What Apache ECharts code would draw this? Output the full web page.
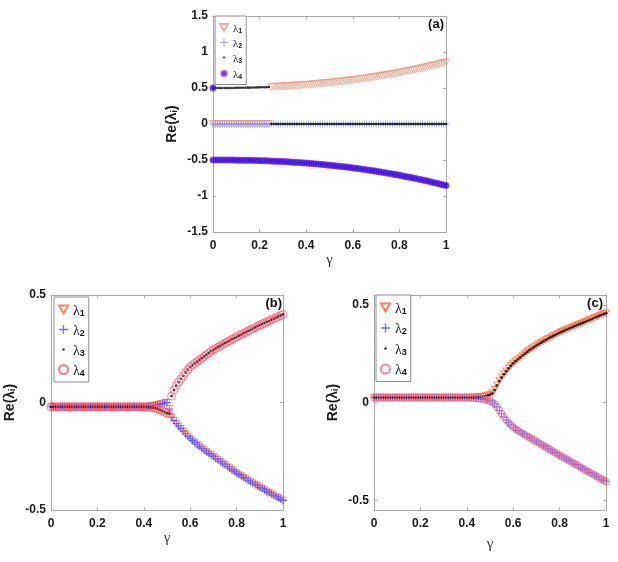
<!DOCTYPE html>
<html><head><meta charset="utf-8">
<script src="https://cdn.jsdelivr.net/npm/echarts@6/dist/echarts.min.js"></script>
<style>html,body{margin:0;padding:0;background:#fff}#c{width:618px;height:562px}</style>
</head><body><div id="c"></div>
<script>
// ---------------- data ----------------
const gamma = [0,0.01,0.02,0.03,0.04,0.05,0.06,0.07,0.08,0.09,0.1,0.11,0.12,0.13,0.14,0.15,0.16,0.17,0.18,0.19,0.2,0.21,0.22,0.23,0.24,0.25,0.26,0.27,0.28,0.29,0.3,0.31,0.32,0.33,0.34,0.35,0.36,0.37,0.38,0.39,0.4,0.41,0.42,0.43,0.44,0.45,0.46,0.47,0.48,0.49,0.5,0.51,0.52,0.53,0.54,0.55,0.56,0.57,0.58,0.59,0.6,0.61,0.62,0.63,0.64,0.65,0.66,0.67,0.68,0.69,0.7,0.71,0.72,0.73,0.74,0.75,0.76,0.77,0.78,0.79,0.8,0.81,0.82,0.83,0.84,0.85,0.86,0.87,0.88,0.89,0.9,0.91,0.92,0.93,0.94,0.95,0.96,0.97,0.98,0.99,1];

// panel (a)
const aLambda1 = [0,0,0,0,0,0,0,0,0,0,0,0,0,0,0,0,0,0,0,0,0,0,0,0,0,
0.515,0.516,0.517,0.519,0.521,0.522,0.524,0.526,0.528,0.530,0.532,0.534,0.536,0.538,0.541,0.543,0.546,0.548,0.551,0.554,0.557,0.560,0.563,0.566,0.569,0.572,0.575,0.579,0.582,0.586,0.590,0.594,0.597,0.601,0.605,0.610,0.614,0.618,0.623,0.627,0.632,0.637,0.641,0.646,0.651,0.656,0.662,0.667,0.672,0.678,0.683,0.689,0.695,0.700,0.706,0.712,0.719,0.725,0.731,0.738,0.744,0.751,0.758,0.765,0.772,0.779,0.786,0.793,0.800,0.808,0.815,0.823,0.831,0.839,0.847,0.855];
const aLambda2 = [0,0,0,0,0,0,0,0,0,0,0,0,0,0,0,0,0,0,0,0,0,0,0,0,0,0,0,0,0,0,0,0,0,0,0,0,0,0,0,0,0,0,0,0,0,0,0,0,0,0,0,0,0,0,0,0,0,0,0,0,0,0,0,0,0,0,0,0,0,0,0,0,0,0,0,0,0,0,0,0,0,0,0,0,0,0,0,0,0,0,0,0,0,0,0,0,0,0,0,0,0];
const aLambda3 = [0.500,0.500,0.500,0.500,0.500,0.500,0.501,0.501,0.501,0.501,0.502,0.502,0.503,0.503,0.504,0.505,0.505,0.506,0.507,0.508,0.509,0.510,0.511,0.512,0.513,
0,0,0,0,0,0,0,0,0,0,0,0,0,0,0,0,0,0,0,0,0,0,0,0,0,0,0,0,0,0,0,0,0,0,0,0,0,0,0,0,0,0,0,0,0,0,0,0,0,0,0,0,0,0,0,0,0,0,0,0,0,0,0,0,0,0,0,0,0,0,0,0,0,0,0,0];
const aLambda4 = [-0.500,-0.500,-0.500,-0.500,-0.500,-0.500,-0.501,-0.501,-0.501,-0.501,-0.502,-0.502,-0.503,-0.503,-0.504,-0.505,-0.505,-0.506,-0.507,-0.508,-0.509,-0.510,-0.511,-0.512,-0.513,
-0.515,-0.516,-0.517,-0.519,-0.521,-0.522,-0.524,-0.526,-0.528,-0.530,-0.532,-0.534,-0.536,-0.538,-0.541,-0.543,-0.546,-0.548,-0.551,-0.554,-0.557,-0.560,-0.563,-0.566,-0.569,-0.572,-0.575,-0.579,-0.582,-0.586,-0.590,-0.594,-0.597,-0.601,-0.605,-0.610,-0.614,-0.618,-0.623,-0.627,-0.632,-0.637,-0.641,-0.646,-0.651,-0.656,-0.662,-0.667,-0.672,-0.678,-0.683,-0.689,-0.695,-0.700,-0.706,-0.712,-0.719,-0.725,-0.731,-0.738,-0.744,-0.751,-0.758,-0.765,-0.772,-0.779,-0.786,-0.793,-0.800,-0.808,-0.815,-0.823,-0.831,-0.839,-0.847,-0.855];
const aLambda4Extra = [[0, 0.5]];

// panel (b)
const bLambda12 = [-0.020,-0.020,-0.020,-0.020,-0.020,-0.020,-0.020,-0.020,-0.020,-0.020,-0.020,-0.020,-0.020,-0.020,-0.020,-0.020,-0.020,-0.020,-0.020,-0.020,-0.020,-0.020,-0.020,-0.020,-0.020,-0.020,-0.020,-0.020,-0.020,-0.020,-0.020,-0.020,-0.020,-0.020,-0.020,-0.020,-0.020,-0.020,-0.020,-0.020,
-0.020,-0.019,-0.018,-0.017,-0.015,-0.013,-0.011,-0.008,-0.005,-0.002,0.000,-0.030,
-0.068,-0.084,-0.098,-0.110,-0.122,-0.134,-0.146,-0.157,-0.168,-0.177,-0.187,-0.196,-0.204,-0.213,-0.221,-0.229,-0.237,-0.244,-0.252,-0.260,-0.267,-0.275,-0.282,-0.290,-0.298,-0.305,-0.313,-0.320,-0.328,-0.335,-0.342,-0.349,-0.355,-0.362,-0.369,-0.375,-0.382,-0.388,-0.395,-0.401,-0.407,-0.414,-0.420,-0.426,-0.432,-0.438,-0.444,-0.450,-0.456];
const bLambda34 = [-0.020,-0.020,-0.020,-0.020,-0.020,-0.020,-0.020,-0.020,-0.020,-0.020,-0.020,-0.020,-0.020,-0.020,-0.020,-0.020,-0.020,-0.020,-0.020,-0.020,-0.020,-0.020,-0.020,-0.020,-0.020,-0.020,-0.020,-0.020,-0.020,-0.020,-0.020,-0.020,-0.020,-0.020,-0.020,-0.020,-0.020,-0.020,-0.020,-0.020,
-0.020,-0.021,-0.022,-0.023,-0.025,-0.027,-0.030,-0.034,-0.039,-0.045,-0.050,-0.052,
0.030,0.058,0.078,0.095,0.110,0.124,0.140,0.153,0.166,0.174,0.182,0.190,0.198,0.206,0.214,0.222,0.230,0.238,0.245,0.251,0.257,0.264,0.270,0.276,0.282,0.288,0.294,0.299,0.305,0.311,0.316,0.322,0.327,0.333,0.338,0.344,0.349,0.355,0.360,0.365,0.370,0.375,0.380,0.385,0.390,0.395,0.400,0.405,0.410];

// panel (c)
const cLambda13 = [0.025,0.025,0.025,0.025,0.025,0.025,0.025,0.025,0.025,0.025,0.025,0.025,0.025,0.025,0.025,0.025,0.025,0.025,0.025,0.025,0.025,0.025,0.025,0.025,0.025,0.025,0.025,0.025,0.025,0.025,0.025,0.025,0.025,0.025,0.025,0.025,0.025,0.025,0.025,0.025,
0.025,0.025,0.026,0.026,0.027,0.028,0.029,0.031,0.033,0.036,0.040,0.047,
0.065,0.088,0.110,0.128,0.145,0.160,0.174,0.188,0.200,0.211,0.221,0.231,0.241,0.250,0.259,0.268,0.276,0.284,0.292,0.299,0.306,0.313,0.320,0.327,0.333,0.339,0.345,0.351,0.357,0.362,0.367,0.373,0.378,0.383,0.388,0.393,0.398,0.403,0.408,0.413,0.418,0.423,0.428,0.433,0.438,0.443,0.448,0.453,0.457];
const cLambda24 = [0.025,0.025,0.025,0.025,0.025,0.025,0.025,0.025,0.025,0.025,0.025,0.025,0.025,0.025,0.025,0.025,0.025,0.025,0.025,0.025,0.025,0.025,0.025,0.025,0.025,0.025,0.025,0.025,0.025,0.025,0.025,0.025,0.025,0.025,0.025,0.025,0.025,0.025,0.025,0.025,
0.025,0.024,0.024,0.023,0.022,0.021,0.020,0.018,0.015,0.012,0.008,0.002,
-0.008,-0.022,-0.040,-0.058,-0.075,-0.090,-0.103,-0.115,-0.126,-0.135,-0.143,-0.151,-0.158,-0.165,-0.172,-0.179,-0.186,-0.193,-0.200,-0.207,-0.214,-0.221,-0.228,-0.235,-0.242,-0.249,-0.256,-0.263,-0.270,-0.277,-0.284,-0.290,-0.297,-0.304,-0.311,-0.317,-0.324,-0.331,-0.338,-0.344,-0.351,-0.358,-0.365,-0.371,-0.378,-0.385,-0.392,-0.398,-0.405];

const panelLabels = ['(a)', '(b)', '(c)'];
const yRangeA = [-1.5, 1.5], yRangeB = [-0.5, 0.5], yRangeC = [-0.55, 0.55];
const yTicksC = [-0.5, 0, 0.5];

// ---------------- chart ----------------
const TRI = 'path://M-1,-0.85 L1,-0.85 L0,0.9 Z';
const PLUS = 'path://M-0.11,-1 L0.11,-1 L0.11,-0.11 L1,-0.11 L1,0.11 L0.11,0.11 L0.11,1 L-0.11,1 L-0.11,0.11 L-1,0.11 L-1,-0.11 L-0.11,-0.11 Z';
const PLUS_ICON = 'path://M-0.14,-1 L0.14,-1 L0.14,-0.14 L1,-0.14 L1,0.14 L0.14,0.14 L0.14,1 L-0.14,1 L-0.14,0.14 L-1,0.14 L-1,-0.14 L-0.14,-0.14 Z';
const DOT_ICON = 'path://M-5,-5 M5,5 M-1.4,0 A1.4,1.4 0 1 1 1.4,0 A1.4,1.4 0 1 1 -1.4,0 Z';
const SMALL_CIRCLE_ICON = 'path://M-5,-5 M5,5 M-3.4,0 A3.4,3.4 0 1 1 3.4,0 A3.4,3.4 0 1 1 -3.4,0 Z';
const FONT = 'Liberation Sans';
const AX = '#a8a8a8';

const grids = [
  {left: 213, top: 16, width: 233, height: 216},
  {left: 51, top: 295, width: 232, height: 215},
  {left: 374, top: 295, width: 232, height: 215}
];

const xAxes = [], yAxes = [];
const nameRich = {
  n: {fontSize: 14, fontWeight: 'bold', fontFamily: FONT, color: '#1a1a1a', lineHeight: 17, verticalAlign: 'bottom'},
  s: {fontSize: 9, fontWeight: 'bold', fontFamily: FONT, color: '#1a1a1a', lineHeight: 7, verticalAlign: 'bottom'}
};
const yRanges = [yRangeA, yRangeB, yRangeC];
const xNameGaps = [18, 21, 27];
for (let p = 0; p < 3; p++) {
  const labStyle = {color: '#1a1a1a', fontWeight: 'bold', fontSize: 12, fontFamily: FONT};
  const line = {show: true, onZero: false, lineStyle: {color: AX}};
  const tick = () => ({show: true, inside: true, length: 3, lineStyle: {color: AX}});
  xAxes.push({
    type: 'value', gridIndex: p, min: 0, max: 1, interval: 0.2, position: 'bottom',
    axisLine: line, axisTick: tick(),
    axisLabel: Object.assign({margin: 8}, labStyle), splitLine: {show: false},
    name: 'γ', nameLocation: 'middle', nameGap: xNameGaps[p],
    nameTextStyle: {fontFamily: 'Liberation Serif', fontSize: 15, color: '#333'}
  });
  xAxes.push({
    type: 'value', gridIndex: p, min: 0, max: 1, interval: 0.2, position: 'top',
    axisLine: line, axisTick: tick(),
    axisLabel: {show: false}, splitLine: {show: false}
  });
  const yr = yRanges[p];
  const yMain = {
    type: 'value', gridIndex: p, min: yr[0], max: yr[1], position: 'left',
    axisLine: line, axisTick: tick(),
    axisLabel: Object.assign({margin: 5}, labStyle), splitLine: {show: false},
    name: '{n|Re(λ}{s|i}{n|)}', nameLocation: 'middle', nameGap: 34,
    nameTextStyle: {rich: nameRich}
  };
  const ySec = {
    type: 'value', gridIndex: p, min: yr[0], max: yr[1], position: 'right',
    axisLine: line, axisTick: tick(),
    axisLabel: {show: false}, splitLine: {show: false}
  };
  if (p === 2) {
    yMain.axisLabel.customValues = yTicksC; yMain.axisTick.customValues = yTicksC;
    ySec.axisTick.customValues = yTicksC;
  } else {
    yMain.interval = 0.5; ySec.interval = 0.5;
  }
  yAxes.push(yMain, ySec);
}

function pts(ys) { return gamma.map((g, i) => [g, ys[i]]); }
function sc(name, p, data, symbol, size, itemStyle) {
  return {type: 'scatter', name, xAxisIndex: 2 * p, yAxisIndex: 2 * p, data, symbol, symbolSize: size,
    itemStyle, clip: false, silent: true, animation: false};
}
const hollow = (c, w) => ({color: 'rgba(0,0,0,0)', borderColor: c, borderWidth: w || 1});
const plusColors = {a: '#8c8cf2', b: '#4a4aff', c: '#4848ff'};

const series = [
  sc('a1', 0, pts(aLambda1), TRI, 7, hollow('#e79a88', 0.9)),
  sc('a2', 0, pts(aLambda2), PLUS, 7, {color: plusColors.a}),
  sc('a3', 0, pts(aLambda3), 'circle', 2.6, {color: '#000'}),
  sc('a4', 0, pts(aLambda4).concat(aLambda4Extra), 'circle', 6.5, {color: '#2a10d8', borderColor: '#c050d0', borderWidth: 0.6}),

  sc('b1', 1, pts(bLambda12), TRI, 6.5, hollow('#ff6a3a', 0.9)),
  sc('b2', 1, pts(bLambda12), PLUS, 8, {color: plusColors.b}),
  sc('b3', 1, pts(bLambda34), 'circle', 2.8, {color: '#000'}),
  sc('b4', 1, pts(bLambda34), 'circle', 8, hollow('#ff4f6a', 0.9)),

  sc('c1', 2, pts(cLambda13), TRI, 6.5, hollow('#ff5a34', 0.9)),
  sc('c2', 2, pts(cLambda24), PLUS, 8, {color: plusColors.c}),
  sc('c3', 2, pts(cLambda13), 'circle', 2.8, {color: '#000'}),
  sc('c4', 2, pts(cLambda24), 'circle', 7, hollow('#f06a88', 0.9))
];

function legend(prefix, left, top, fs, gap, iconSize, padTop, fourthIcon) {
  const d4 = fourthIcon ? {name: prefix + '4', icon: fourthIcon} : prefix + '4';
  return {
    orient: 'vertical', left, top, padding: [padTop, 4, 4, 4], itemGap: gap,
    itemWidth: iconSize, itemHeight: iconSize, itemTextGap: 4,
    borderColor: '#8c8c8c', borderWidth: 1, backgroundColor: '#fff', selectedMode: false,
    data: [prefix + '1',
      {name: prefix + '2', icon: PLUS_ICON, itemStyle: {color: plusColors[prefix], borderColor: plusColors[prefix], borderWidth: 0}},
      {name: prefix + '3', icon: DOT_ICON}, d4],
    formatter: n => '{l|λ}{s|' + n.slice(1) + '}',
    textStyle: {rich: {
      l: {fontSize: fs, fontFamily: 'Liberation Serif', color: '#111', lineHeight: fs + 3, verticalAlign: 'bottom'},
      s: {fontSize: Math.round(fs * 0.62), fontFamily: FONT, fontWeight: 'bold', color: '#111', lineHeight: 5, verticalAlign: 'bottom'}
    }}
  };
}

const option = {
  backgroundColor: '#fff',
  animation: false,
  grid: grids,
  xAxis: xAxes,
  yAxis: yAxes,
  legend: [
    legend('a', 215, 16, 11, 4, 8, 7, SMALL_CIRCLE_ICON),
    legend('b', 54, 297, 14, 6, 9, 7),
    legend('c', 376, 295, 14, 6.5, 9, 7)
  ],
  title: [
    {text: panelLabels[0], right: 174, top: 18, padding: 0, textStyle: {fontSize: 13, fontWeight: 'bold', fontFamily: FONT, color: '#111'}},
    {text: panelLabels[1], right: 336, top: 297, padding: 0, textStyle: {fontSize: 13, fontWeight: 'bold', fontFamily: FONT, color: '#111'}},
    {text: panelLabels[2], right: 15, top: 297, padding: 0, textStyle: {fontSize: 13, fontWeight: 'bold', fontFamily: FONT, color: '#111'}}
  ],
  series
};
const chart = echarts.init(document.getElementById('c'));
chart.setOption(option);
</script></body></html>
